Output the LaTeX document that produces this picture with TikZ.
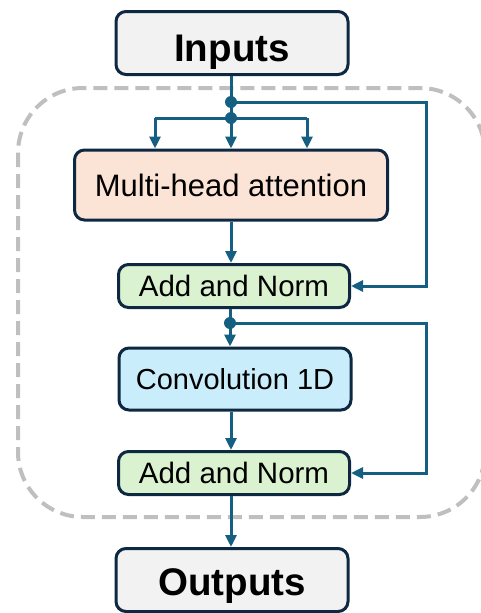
\documentclass[tikz,border=0pt]{standalone}
\usepackage{fontspec}
\setmainfont{Liberation Sans}
\usetikzlibrary{arrows.meta}
\definecolor{flow}{HTML}{156082}
\definecolor{edge}{HTML}{0E2841}
\definecolor{ioFill}{HTML}{F2F2F2}
\definecolor{attnFill}{HTML}{FBE3D6}
\definecolor{normFill}{HTML}{DAF2D0}
\definecolor{convFill}{HTML}{CAEDFB}
\definecolor{frame}{HTML}{BFBFBF}
\begin{document}
\begin{tikzpicture}[x=1pt,y=-1pt,
  blk/.style={draw=edge,line width=3pt,rounded corners=10pt,inner sep=0pt,align=center},
  iobox/.style={blk,fill=ioFill,minimum width=232pt,minimum height=63pt,text depth=0pt,font=\fontsize{38.5}{42}\selectfont\bfseries},
  attn/.style={blk,fill=attnFill,minimum width=313pt,minimum height=70pt,font=\fontsize{31}{34}\selectfont},
  norm/.style={blk,fill=normFill,minimum width=231pt,minimum height=43pt,font=\fontsize{29.5}{32}\selectfont},
  conv/.style={blk,fill=convFill,minimum width=232pt,minimum height=62pt,font=\fontsize{29}{32}\selectfont},
  wire/.style={draw=flow,line width=3pt},
  arr/.style={wire,-{Triangle[width=11pt,length=12pt]}},
  dot/.style={circle,fill=flow,inner sep=0pt,minimum size=12pt}
]
\useasboundingbox (0,0) rectangle (480,613);

% dashed encoder frame
\draw[frame,line width=4pt,dash pattern=on 14pt off 7pt,rounded corners=65pt]
  (18,88) rectangle (485,517);

% blocks
\node[iobox,text height=36pt] (in)   at (232,43)  {Inputs};
\node[attn]  (mha)  at (231,185) {Multi-head attention};
\node[norm]  (an1)  at (234,286) {Add and Norm};
\node[conv]  (cv)   at (235,379) {Convolution 1D};
\node[norm]  (an2)  at (234,473) {Add and Norm};
\node[iobox,text height=31pt] (out)  at (232,580) {Outputs};

% junctions and corners
\coordinate (j1) at (231,102);
\coordinate (j2) at (231,118);
\coordinate (bl) at (155,118);
\coordinate (br) at (307,118);
\coordinate (r1) at (426,102);
\coordinate (j3) at (230,323);
\coordinate (r2) at (426,323);

% attention sub-layer
\draw[wire] (in.south -| j1) -- (j2);
\draw[wire] (bl) -- (br);
\draw[arr] (bl) -- (bl |- mha.north);
\draw[arr] (j2) -- (j2 |- mha.north);
\draw[arr] (br) -- (br |- mha.north);
\draw[arr] (j1) -- (r1) -- (r1 |- an1.east) -- (an1.east);
\draw[arr] (mha.south -| j1) -- (an1.north -| j1);

% convolution sub-layer
\draw[arr] (an1.south -| j3) -- (cv.north -| j3);
\draw[arr] (j3) -- (r2) -- (r2 |- an2.east) -- (an2.east);
\draw[arr] (cv.south -| j1) -- (an2.north -| j1);
\draw[arr] (an2.south -| j1) -- (out.north -| j1);

\node[dot] at (j1) {};
\node[dot] at (j2) {};
\node[dot] at (j3) {};
\end{tikzpicture}
\end{document}
